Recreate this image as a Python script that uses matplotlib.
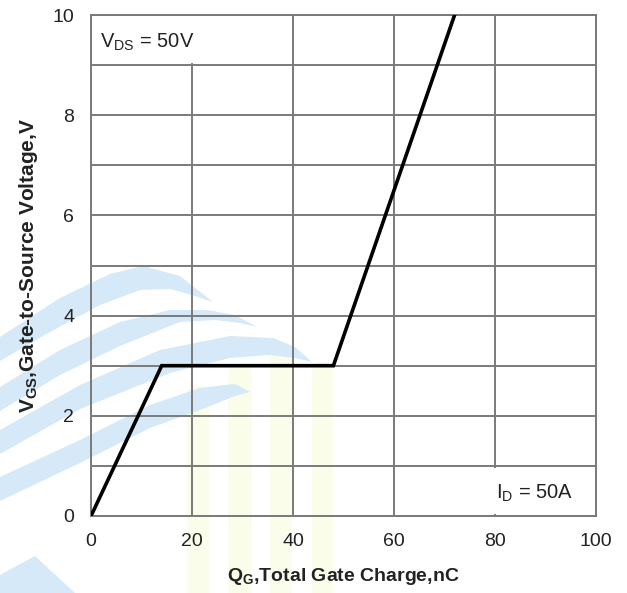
import matplotlib
matplotlib.use("Agg")
import matplotlib.pyplot as plt
from matplotlib.patches import Polygon, FancyBboxPatch, Rectangle

plt.rcParams["font.family"] = ["Liberation Sans", "DejaVu Sans"]
plt.rcParams["mathtext.fontset"] = "custom"
plt.rcParams["mathtext.rm"] = "Liberation Sans"
plt.rcParams["mathtext.bf"] = "Liberation Sans:bold"

# gate charge curve
qg_nc = [0, 14, 48, 72]
vgs_v = [0, 3, 3, 10]

x_ticks = [0, 20, 40, 60, 80, 100]
y_ticks = [0, 2, 4, 6, 8, 10]

W, H = 627, 593
fig = plt.figure(figsize=(W / 100, H / 100), dpi=100)

# faint watermark behind the plot (pixel coords)
bg = fig.add_axes([0, 0, 1, 1], zorder=-1)
bg.set_xlim(0, W)
bg.set_ylim(H, 0)
bg.axis("off")

blue = "#d6e9f8"
swooshes = [
    [(0, 337), (60, 298), (110, 274), (143, 266), (180, 276), (213, 302),
     (195, 296), (170, 289), (140, 290), (100, 305), (50, 332), (0, 361)],
    [(0, 387), (60, 350), (120, 322), (170, 310), (207, 310), (235, 315),
     (257, 327), (240, 323), (215, 320), (180, 322), (120, 346), (60, 375),
     (0, 411)],
    [(0, 430), (80, 385), (160, 350), (230, 336), (273, 338), (295, 347),
     (312, 362), (295, 358), (270, 355), (230, 358), (170, 373), (80, 409),
     (0, 454)],
    [(0, 477), (80, 440), (150, 405), (200, 388), (235, 384), (250, 392),
     (235, 396), (200, 410), (150, 428), (80, 463), (0, 501)],
]

ybars = [(187, 209, 385), (228, 252, 365), (270, 292, 348), (312, 333, 362)]
for x0, x1, top in ybars:
    bg.add_patch(FancyBboxPatch((x0, top), x1 - x0, H - top + 20,
                                boxstyle="round,pad=0,rounding_size=10",
                                color="#fafdea", lw=0, zorder=0))
for pts in swooshes:
    bg.add_patch(Polygon(pts, closed=True, color=blue, lw=0, zorder=1))
bg.add_patch(Polygon([(0, 593), (0, 575), (35, 556), (75, 593)],
                     closed=True, color=blue, lw=0, zorder=1))

ax = fig.add_axes([91 / W, 1 - 516 / H, 505 / W, 501 / H])
ax.set_facecolor("none")
ax.set_xlim(0, 100)
ax.set_ylim(0, 10)
ax.set_xticks(x_ticks)
ax.set_yticks(y_ticks)
ax.set_yticks(range(0, 11), minor=True)
ax.set_axisbelow(True)
ax.grid(True, which="major", axis="x", color="#7a7a7a", lw=1.4)
ax.grid(True, which="both", axis="y", color="#7a7a7a", lw=1.4)
for s in ax.spines.values():
    s.set_color("#7a7a7a")
    s.set_linewidth(1.4)
ax.tick_params(axis="both", which="both", length=0, labelsize=14,
               labelcolor="#222222")
ax.tick_params(axis="x", pad=12)
ax.tick_params(axis="y", pad=12)

ax.plot(qg_nc, vgs_v, color="black", lw=2.6, zorder=3, solid_joinstyle="miter")

# label boxes hide the grid behind them
ax.add_patch(Rectangle((0.2, 9.05), 20.3, 0.93, color="white", lw=0, zorder=1))
ax.add_patch(Rectangle((79.5, 0.03), 20.3, 0.92, color="white", lw=0, zorder=1))
ax.text(1.8, 9.46, r"V$_{\mathrm{DS}}$ = 50V", fontsize=14.5, color="#222222",
        va="center", ha="left", zorder=4)
ax.text(95.4, 0.46, r"I$_{\mathrm{D}}$ = 50A", fontsize=14.5, color="#222222",
        va="center", ha="right", zorder=4)

ax.set_xlabel(r"$\mathbf{Q_G}$,Total Gate Charge,nC", fontsize=14,
              fontweight="bold", color="#222222", labelpad=12)
ax.set_ylabel(r"$\mathbf{V_{GS}}$,Gate-to-Source Voltage,V", fontsize=15,
              fontweight="bold", color="#222222", labelpad=9)

fig.savefig("out.png", dpi=100)
